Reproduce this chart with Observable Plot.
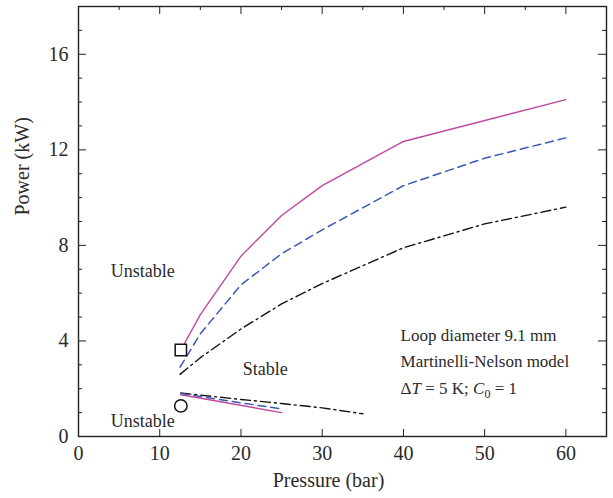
<!DOCTYPE html>
<html><head><meta charset="utf-8">
<script src="https://cdn.jsdelivr.net/npm/d3@7"></script>
<script src="https://cdn.jsdelivr.net/npm/@observablehq/plot@0.6"></script>
<style>body{margin:0;background:#fff}</style>
</head><body><div id="chart"></div>
<script>
// ---- data ----
const solidUpperP = [12.6, 15, 20, 25, 30, 40, 60];
const solidUpperW = [3.62, 5.1, 7.55, 9.25, 10.5, 12.35, 14.1];
const dashedUpperP = [12.5, 15, 20, 25, 30, 40, 50, 60];
const dashedUpperW = [2.9, 4.3, 6.35, 7.65, 8.65, 10.5, 11.65, 12.5];
const dashDotUpperP = [12.5, 15, 20, 25, 30, 40, 50, 60];
const dashDotUpperW = [2.6, 3.3, 4.5, 5.55, 6.4, 7.9, 8.9, 9.6];
const solidLowerP = [12.6, 25];
const solidLowerW = [1.75, 1.0];
const dashedLowerP = [12.6, 25];
const dashedLowerW = [1.8, 1.15];
const dashDotLowerP = [12.6, 20, 25, 30, 35];
const dashDotLowerW = [1.82, 1.55, 1.38, 1.2, 0.95];
const squareMarker = [{p: 12.6, w: 3.62}];
const circleMarker = [{p: 12.6, w: 1.28}];
const xTickLabels = [0, 10, 20, 30, 40, 50, 60];
const yTickLabels = [0, 4, 8, 12, 16];
const regionLabels = [
  {text: "Unstable", p: 7.9, w: 6.93},
  {text: "Stable", p: 23, w: 2.83},
  {text: "Unstable", p: 7.9, w: 0.65}
];
const noteLines = [
  {text: "Loop diameter 9.1 mm", p: 39.65, w: 4.21},
  {text: "Martinelli-Nelson model", p: 39.65, w: 3.12},
  {text: "\u0394T = 5 K; C0 = 1", p: 39.65, w: 1.99}
];

const zip = (xs, ys) => xs.map((x, i) => ({p: x, w: ys[i]}));

const W = 613, H = 498;
const mL = 78, mR = 7, mT = 6, mB = 62;
const iW = W - mL - mR, iH = H - mT - mB;

const magenta = "#c0479f", blue = "#3a59b5", black = "#111";
const font = "Liberation Serif";
const txt = "#2a2a2a";

const xTop5 = d3.range(5, 65, 10);
const xTop10 = d3.range(10, 65, 10);
const yMinor = d3.range(1, 18).filter(d => d % 4 !== 0);
const yMajor = [4, 8, 12, 16];

const chart = Plot.plot({
  width: W, height: H,
  marginLeft: mL, marginRight: mR, marginTop: mT, marginBottom: mB,
  style: {fontFamily: font, fontSize: "20px", background: "#fff", color: txt},
  x: {domain: [0, 65], axis: null},
  y: {domain: [0, 18], axis: null},
  marks: [
    // ticks (inward)
    Plot.ruleX(xTop10, {x: d => d, insetTop: iH - 7, stroke: "#222"}),
    Plot.ruleX(xTop10, {x: d => d, insetBottom: iH - 8, stroke: "#222"}),
    Plot.ruleX(xTop5, {x: d => d, insetBottom: iH - 4, stroke: "#222"}),
    Plot.ruleY(yMajor, {y: d => d, insetRight: iW - 8, stroke: "#222"}),
    Plot.ruleY(yMinor, {y: d => d, insetRight: iW - 4, stroke: "#222"}),
    Plot.ruleY(yMajor, {y: d => d, insetLeft: iW - 8, stroke: "#222"}),
    Plot.ruleY(yMinor, {y: d => d, insetLeft: iW - 4, stroke: "#222"}),
    Plot.frame({stroke: "#222", strokeWidth: 1.4}),
    // tick labels
    Plot.axisX({ticks: xTickLabels, tickSize: 0, tickPadding: 9, fontSize: 20, fontFamily: font, tickFormat: d => String(d), label: null}),
    Plot.axisY({ticks: yTickLabels, tickSize: 0, tickPadding: 10, fontSize: 20, fontFamily: font, tickFormat: d => String(d), label: null}),
    // axis titles
    Plot.text(["Power (kW)"], {frameAnchor: "left", dx: -56, dy: -6, rotate: -90, fontSize: 20, fontFamily: font, fill: txt}),
    Plot.text(["Pressure (bar)"], {frameAnchor: "bottom", dy: 50, dx: -14, fontSize: 20, fontFamily: font, fill: txt}),
    // curves
    Plot.line(zip(dashDotUpperP, dashDotUpperW), {x: "p", y: "w", stroke: black, strokeWidth: 1.4, strokeDasharray: "10,4,2,4"}),
    Plot.line(zip(dashDotLowerP, dashDotLowerW), {x: "p", y: "w", stroke: black, strokeWidth: 1.4, strokeDasharray: "10,4,2,4"}),
    Plot.line(zip(dashedUpperP, dashedUpperW), {x: "p", y: "w", stroke: blue, strokeWidth: 1.5, strokeDasharray: "8,5"}),
    Plot.line(zip(dashedLowerP, dashedLowerW), {x: "p", y: "w", stroke: blue, strokeWidth: 1.5, strokeDasharray: "8,5"}),
    Plot.line(zip(solidUpperP, solidUpperW), {x: "p", y: "w", stroke: magenta, strokeWidth: 1.4}),
    Plot.line(zip(solidLowerP, solidLowerW), {x: "p", y: "w", stroke: magenta, strokeWidth: 1.4}),
    // markers
    Plot.dot(squareMarker, {x: "p", y: "w", symbol: "square", r: 6.4, stroke: "#111", strokeWidth: 1.5, fill: "#fff"}),
    Plot.dot(circleMarker, {x: "p", y: "w", symbol: "circle", r: 6.2, stroke: "#111", strokeWidth: 1.5, fill: "#fff"}),
    // labels
    Plot.text(regionLabels, {x: "p", y: "w", text: "text", fontSize: 18, fontFamily: font, fill: txt}),
    Plot.text(noteLines, {x: "p", y: "w", text: "text", textAnchor: "start", fontSize: 17, fontFamily: font, fill: txt})
  ]
});

// rich formatting for the third note line (italic symbols, subscript)
d3.select(chart).selectAll("text").filter(function() {
  return this.textContent === "\u0394T = 5 K; C0 = 1";
}).each(function() {
  const t = d3.select(this);
  t.text(null);
  t.append("tspan").text("\u0394");
  t.append("tspan").attr("font-style", "italic").text("T");
  t.append("tspan").text(" = 5 K; ");
  t.append("tspan").attr("font-style", "italic").text("C");
  t.append("tspan").attr("font-size", 12).attr("dy", 4).text("0");
  t.append("tspan").attr("dy", -4).text(" = 1");
});

document.getElementById("chart").appendChild(chart);
</script>
</body></html>
